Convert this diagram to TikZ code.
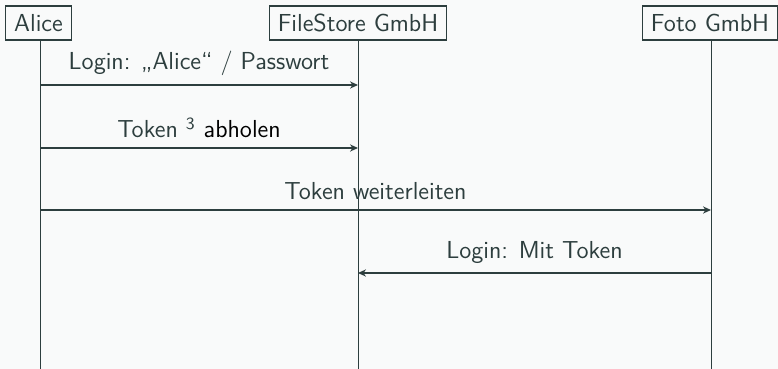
\documentclass[tikz,border=0pt]{standalone}
\usetikzlibrary{arrows.meta}
\definecolor{ink}{RGB}{45,62,62}
\definecolor{bg}{RGB}{249,250,250}
\begin{document}
\begin{tikzpicture}[x=0.5pt,y=-0.5pt,
  font=\sffamily\fontsize{12.3}{15}\selectfont, text=ink,
  actor/.style={draw=ink, line width=0.6pt, fill=bg, minimum height=17pt, inner xsep=4.3pt, inner ysep=0pt},
  life/.style={draw=ink, line width=0.5pt},
  msg/.style={draw=ink, line width=0.6pt, -{Stealth[length=4pt,width=3.6pt]}},
  lab/.style={midway, above=4.6pt, inner sep=0pt}]
\fill[bg] (0,0) rectangle (778,369);
\useasboundingbox (0,0) rectangle (778,369);
% lifeline bottoms
\coordinate (ae) at (40,369);
\coordinate (fe) at (358,369);
\coordinate (ge) at (711,369);
\draw[life] (40,40) -- (ae);
\draw[life] (358,40) -- (fe);
\draw[life] (711,40) -- (ge);
\node[actor] (alice) at (38.5,23) {Alice};
\node[actor] (file) at (358,23) {FileStore GmbH};
\node[actor] (foto) at (710,23) {Foto GmbH};
% message points
\coordinate (a1) at (40,85);  \coordinate (f1) at (358,85);
\coordinate (a2) at (40,148); \coordinate (f2) at (358,148);
\coordinate (a3) at (40,210); \coordinate (g3) at (711,210);
\coordinate (g4) at (711,273); \coordinate (f4) at (358,273);
\draw[msg] (a1) -- node[lab] {Login: „Alice“ / Passwort} (f1);
\draw[msg] (a2) -- node[lab] {Token \textsuperscript{3} \textcolor{black}{abholen}} (f2);
\draw[msg] (a3) -- node[lab] {Token weiterleiten} (g3);
\draw[msg] (g4) -- node[lab] {Login: Mit Token} (f4);
\end{tikzpicture}
\end{document}
